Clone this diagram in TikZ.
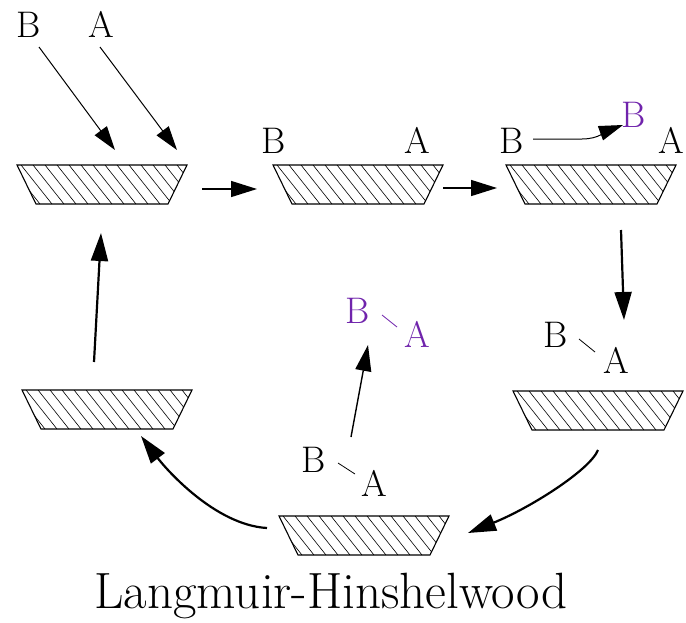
\documentclass[tikz,border=0pt]{standalone}
\usetikzlibrary{arrows.meta}
\definecolor{prodcol}{RGB}{112,36,172}
\tikzset{
  x=1pt, y=-1pt,
  surface/.pic={
    \begin{scope}
      \clip (0,0) -- (170,0) -- (151,39) -- (19,39) -- cycle;
      \foreach \i in {-3,...,14}
        \draw[line width=0.6pt] (\i*12+4,0) -- ++(31,39);
    \end{scope}
    \draw[line width=1.1pt, line join=miter] (0,0) -- (170,0) -- (151,39) -- (19,39) -- cycle;
  },
  species/.style={font=\fontsize{37}{37}\selectfont, inner sep=0pt, anchor=base},
  product/.style={species, text=prodcol},
  thinarrow/.style={line width=1pt, -{Triangle[length=24pt,width=15pt]}},
  midarrow/.style={line width=1.4pt, -{Triangle[length=26pt,width=16pt]}},
  thickarrow/.style={line width=2.2pt, -{Triangle[length=28pt,width=17pt]}},
  bond/.style={line width=0.8pt},
}
\begin{document}
\begin{tikzpicture}
\useasboundingbox (0,0) rectangle (686,622);

% catalyst surfaces
\pic (s1) at (17,165)  {surface};
\pic (s2) at (273,165) {surface};
\pic (s3) at (506,165) {surface};
\pic (s4) at (513,391) {surface};
\pic (s5) at (279,516) {surface};
\pic (s6) at (22,390)  {surface};

% gas-phase reactants
\node[species] (gB) at (29,37)  {B};
\node[species] (gA) at (101,37) {A};

% adsorbed species
\node[species] (b2) at (274,153) {B};
\node[species] (a2) at (417,153) {A};
\node[species] (b3) at (512,153) {B};
\node[product] (b3m) at (634,127) {B};
\node[species] (a3) at (671,153) {A};
\node[species] (b4) at (556,347) {B};
\node[species] (a4) at (616,373) {A};
\node[species] (b5) at (314,472) {B};
\node[species] (a5) at (374,496) {A};

% desorbed product
\node[product] (pb) at (358,323) {B};
\node[product] (pa) at (417,347) {A};

% title
\node[font=\fontsize{51}{51}\selectfont, inner sep=0pt, anchor=base] (title) at (331,608) {Langmuir-Hinshelwood};

% arrow end points
\coordinate (gBs) at (39,47);   \coordinate (gBe) at (115,150);
\coordinate (gAs) at (100,47);  \coordinate (gAe) at (177,150);
\coordinate (h1s) at (202,189); \coordinate (h1e) at (257,189);
\coordinate (h2s) at (443,188); \coordinate (h2e) at (497,188);
\coordinate (ms)  at (533,139); \coordinate (me)  at (623,125);
\coordinate (ds)  at (621,230); \coordinate (de)  at (624,320);
\coordinate (us)  at (351,437); \coordinate (ue)  at (368,345);
\coordinate (rs)  at (598,450); \coordinate (re)  at (468,533);
\coordinate (ls)  at (267,528); \coordinate (le)  at (141,436);
\coordinate (vs)  at (94,362);  \coordinate (ve)  at (101,233);

% adsorption
\draw[thinarrow] (gBs) -- (gBe);
\draw[thinarrow] (gAs) -- (gAe);
% step arrows along the top
\draw[midarrow] (h1s) -- (h1e);
\draw[midarrow] (h2s) -- (h2e);
% surface migration of B
\draw[thinarrow] (ms) -- (582,139) to[out=0,in=200] (me);
% reaction and desorption steps
\draw[thickarrow] (ds) -- (de);
\draw[midarrow] (us) -- (ue);
\draw[thickarrow] (rs) .. controls (590,470) and (530,508) .. (re);
\draw[thickarrow] (ls) .. controls (215,525) and (166,469) .. (le);
\draw[thickarrow] (vs) -- (ve);

% B--A bonds
\draw[bond] (579,339) -- (595,352);
\draw[bond] (338,463) -- (355,474);
\draw[bond, prodcol] (382,315) -- (397,327);
\end{tikzpicture}
\end{document}
